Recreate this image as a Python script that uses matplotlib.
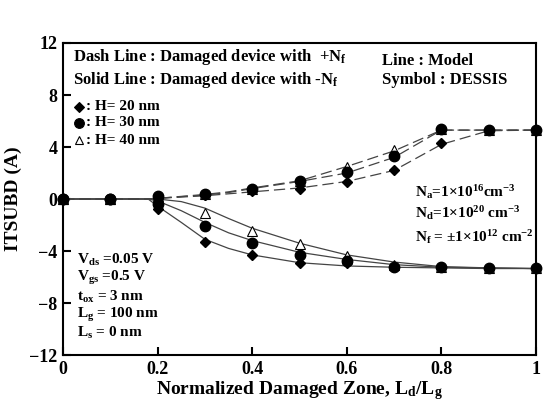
import matplotlib
matplotlib.use("Agg")
import matplotlib.pyplot as plt

plt.rcParams["font.family"] = ["Liberation Serif", "DejaVu Serif"]
plt.rcParams["font.weight"] = "bold"
plt.rcParams["mathtext.fontset"] = "custom"
plt.rcParams["mathtext.rm"] = "Liberation Serif:bold"
plt.rcParams["mathtext.it"] = "Liberation Serif:bold"
plt.rcParams["mathtext.bf"] = "Liberation Serif:bold"

# DESSIS simulation points
x_sim = [0, 0.1, 0.2, 0.3, 0.4, 0.5, 0.6, 0.7, 0.8, 0.9, 1.0]
pos_h20 = [0, 0, 0.1, 0.3, 0.6, 0.8, 1.3, 2.2, 4.3, 5.3, 5.3]
pos_h30 = [0, 0, 0.25, 0.38, 0.8, 1.4, 2.1, 3.3, 5.35, 5.3, 5.3]
pos_h40 = [0, 0, 0.2, 0.35, 0.8, 1.4, 2.45, 3.75, 5.35, 5.3, 5.3]
neg_h20 = [0, 0, -0.8, -3.3, -4.3, -4.95, -4.95, -5.2, -5.25, -5.3, -5.3]
neg_h30 = [0, 0, -0.4, -2.05, -3.4, -4.3, -4.75, -5.2, -5.25, -5.3, -5.3]
neg_h40 = [0, 0, 0.0, -1.1, -2.5, -3.5, -4.35, -5.1, -5.25, -5.3, -5.3]

# model curves
x_mod = [0, 0.1, 0.18, 0.2, 0.25, 0.3, 0.35, 0.4, 0.5, 0.6, 0.7, 0.8, 0.9, 1.0]
mod_pos_h20 = [0, 0, 0, 0.05, 0.15, 0.25, 0.4, 0.55, 0.85, 1.35, 2.2, 4.2, 5.25, 5.3]
mod_pos_h30 = [0, 0, 0, 0.05, 0.18, 0.3, 0.5, 0.8, 1.35, 2.0, 3.2, 5.3, 5.3, 5.3]
mod_pos_h40 = [0, 0, 0, 0.05, 0.2, 0.35, 0.55, 0.85, 1.4, 2.5, 3.7, 5.3, 5.3, 5.3]
mod_neg_h20 = [0, 0, 0, -0.55, -1.8, -3.1, -3.8, -4.3, -4.9, -5.15, -5.25, -5.3, -5.35, -5.35]
mod_neg_h30 = [0, 0, 0, -0.15, -0.9, -1.8, -2.6, -3.2, -4.1, -4.65, -5.05, -5.25, -5.3, -5.35]
mod_neg_h40 = [0, 0, 0, 0, -0.2, -0.7, -1.5, -2.25, -3.4, -4.3, -4.85, -5.2, -5.3, -5.35]

fig = plt.figure(figsize=(5.46, 4.19), dpi=100)
ax = fig.add_axes([63 / 546, 64 / 419, 473 / 546, 312 / 419])

line_kw = dict(color="#444444", lw=0.9)
for y in (mod_pos_h20, mod_pos_h30, mod_pos_h40):
    ax.plot(x_mod, y, dashes=(9, 4), **line_kw)
for y in (mod_neg_h20, mod_neg_h30, mod_neg_h40):
    ax.plot(x_mod, y, **line_kw)

for y in (pos_h40, neg_h40):
    ax.plot(x_sim, y, ls="none", marker="^", ms=6.5, mfc="white", mec="black", mew=0.8, clip_on=False)
for y in (pos_h30, neg_h30):
    ax.plot(x_sim, y, ls="none", marker="o", ms=7.5, color="black", clip_on=False)
for y in (pos_h20, neg_h20):
    ax.plot(x_sim, y, ls="none", marker="D", ms=5, color="black", clip_on=False)

ax.set_xlim(0, 1)
ax.set_ylim(-12, 12)
ax.set_xticks([0, 0.2, 0.4, 0.6, 0.8, 1])
ax.set_xticklabels(["0", "0.2", "0.4", "0.6", "0.8", "1"])
ax.set_yticks([-12, -8, -4, 0, 4, 8, 12])
ax.tick_params(direction="in", length=6, width=1.5, labelsize=13, pad=4)
for s in ax.spines.values():
    s.set_linewidth(1.5)
ax.set_xlabel(r"Normalized Damaged Zone, L$_\mathrm{d}$/L$_\mathrm{g}$", fontsize=14, fontweight="bold", labelpad=1)
ax.set_ylabel("ITSUBD (A)", fontsize=14, fontweight="bold", labelpad=5)


def px(x, y):
    return ((x - 63) / 473, (355 - y) / 312)


def put(x, y, s, size=12):
    ax.text(*px(x, y), s, transform=ax.transAxes, fontsize=size, fontweight="bold", va="center", ha="left")


put(73, 57, r"Dash Line : Damaged device with  +N$_\mathrm{f}$")
put(73, 80, r"Solid Line : Damaged device with -N$_\mathrm{f}$")
put(382, 61, "Line : Model")
put(382, 80, "Symbol : DESSIS")

legend_rows = [("D", "black", 5, 107, ": H= 20 nm"), ("o", "black", 7, 123, ": H= 30 nm"), ("^", "white", 6, 140, ": H= 40 nm")]
for mk, fc, ms, yy, label in legend_rows:
    ax.plot(*px(79, yy), marker=mk, ms=ms, mfc=fc, mec="black", mew=0.8, transform=ax.transAxes)
    put(86, yy, label, size=11)

put(415, 192, r"N$_\mathrm{a}$=1×10$^{16}$cm$^{-3}$", size=11)
put(415, 213, r"N$_\mathrm{d}$=1×10$^{20}$ cm$^{-3}$", size=11)
put(415, 237, r"N$_\mathrm{f}$ = ±1×10$^{12}$ cm$^{-2}$", size=11)

put(77, 260, r"V$_\mathrm{ds}$ =0.05 V", size=11)
put(77, 278, r"V$_\mathrm{gs}$ =0.5 V", size=11)
put(77, 297, r"t$_\mathrm{ox}$ = 3 nm", size=11)
put(77, 315, r"L$_\mathrm{g}$ = 100 nm", size=11)
put(77, 333, r"L$_\mathrm{s}$ = 0 nm", size=11)

fig.savefig("out.png", dpi=100)
